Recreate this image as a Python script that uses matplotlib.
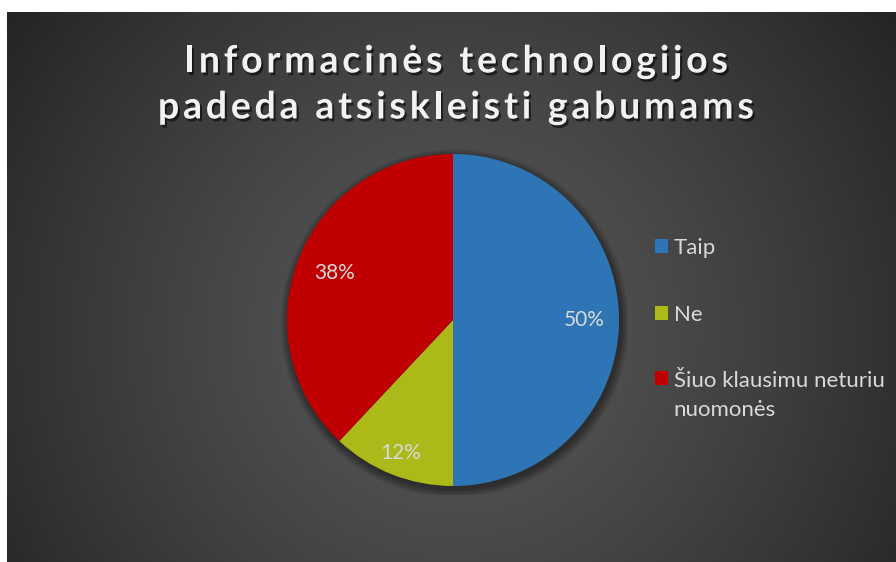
import numpy as np
import matplotlib
matplotlib.use("Agg")
import matplotlib.pyplot as plt
import matplotlib.patheffects as pe
from matplotlib.patches import Circle, Rectangle
from matplotlib.legend_handler import HandlerPatch

title_lines = ["Informacinės technologijos", "padeda atsiskleisti gabumams"]
categories = ["Taip", "Ne", "Šiuo klausimu neturiu\nnuomonės"]
shares = [50, 12, 38]
colors = ["#2E75B6", "#ABBA19", "#C00000"]

W, H = 896, 562
plt.rcParams['font.family'] = ['Lato', 'DejaVu Sans']

fig = plt.figure(figsize=(W / 100, H / 100), dpi=100, facecolor="white")

# dark panel with radial gradient
bg = fig.add_axes([7 / W, 0, 888 / W, 550 / H])
bg.set_axis_off()
yy, xx = np.mgrid[0:550, 0:888]
r = np.hypot((xx - 446) / 520, (yy - 320) / 520)
shade = np.clip(0.345 - 0.19 * r ** 1.3, 0.13, 1)
img = np.dstack([shade, shade, shade])
bg.imshow(img, aspect="auto", interpolation="bilinear")

# pie
cx, cy, R = 453, 320, 166
half = 175
ax = fig.add_axes([(cx - half) / W, (H - cy - half) / H, 2 * half / W, 2 * half / H])

# soft shadow under the pie
for k in range(8):
    ax.add_patch(Circle((0.01, -0.02), 1.0 + 0.007 * k, color="black", alpha=0.06, lw=0, zorder=0))

wedges, _, autotexts = ax.pie(
    shares, colors=colors, startangle=90, counterclock=False, radius=1,
    autopct="%.0f%%", pctdistance=0.8, wedgeprops=dict(linewidth=0),
    textprops=dict(color="#D9D9D9", fontsize=15))
for w in wedges:
    w.set_zorder(2)
# label distance per slice (best-fit style like the original)
for w, t, d in zip(wedges, autotexts, [0.79, 0.86, 0.77]):
    a = np.deg2rad((w.theta1 + w.theta2) / 2)
    t.set_position((d * np.cos(a), d * np.sin(a)))
ax.set_xlim(-half / R, half / R)
ax.set_ylim(-half / R, half / R)
ax.set_aspect("auto")
ax.set_axis_off()


# legend: square marker sits on the first line of a two-line label
class FirstLineSquare(HandlerPatch):
    def __init__(self, shift):
        super().__init__()
        self.shift = shift

    def create_artists(self, legend, orig_handle, xdescent, ydescent, width, height, fontsize, trans):
        p = Rectangle((-xdescent, -ydescent + self.shift * fontsize), width, height,
                      facecolor=orig_handle.get_facecolor(), lw=0, transform=trans)
        return [p]


handler_map = {wedges[0]: FirstLineSquare(0), wedges[1]: FirstLineSquare(0),
               wedges[2]: FirstLineSquare(0.82)}
leg = fig.legend(wedges, categories, loc="upper left", bbox_to_anchor=(646 / W, (H - 229) / H),
                 frameon=False, fontsize=16, labelcolor="#D9D9D9", handlelength=0.6,
                 handleheight=0.6, handletextpad=0.25, labelspacing=2.1, borderaxespad=0,
                 handler_map=handler_map)
for t in leg.get_texts():
    t.set_linespacing(1.55)

# title with wide letter spacing
renderer = fig.canvas.get_renderer()
title_kw = dict(fontsize=27, fontweight="bold", color="#F2F2F2")


def text_w(s):
    t = fig.text(0, 0, s, **title_kw)
    w = t.get_window_extent(renderer).width
    t.remove()
    return w


def spaced_line(s, xc, y_base, spacing):
    ref = text_w("l")
    offs = [text_w(s[:i] + "l") - ref if i else 0 for i in range(len(s))]
    total = text_w(s) + spacing * (len(s) - 1)
    x0 = xc - total / 2
    for i, ch in enumerate(s):
        if ch == " ":
            continue
        fig.text((x0 + offs[i] + spacing * i) / W, (H - y_base) / H, ch, va="baseline", ha="left",
                 path_effects=[pe.SimplePatchShadow(offset=(1.5, -2), shadow_rgbFace="black", alpha=0.55),
                               pe.Normal()], **title_kw)


spaced_line(title_lines[0], 456, 72.5, 3.8)
spaced_line(title_lines[1], 456, 118.5, 3.8)

fig.savefig("out.png", dpi=100, facecolor=fig.get_facecolor())
